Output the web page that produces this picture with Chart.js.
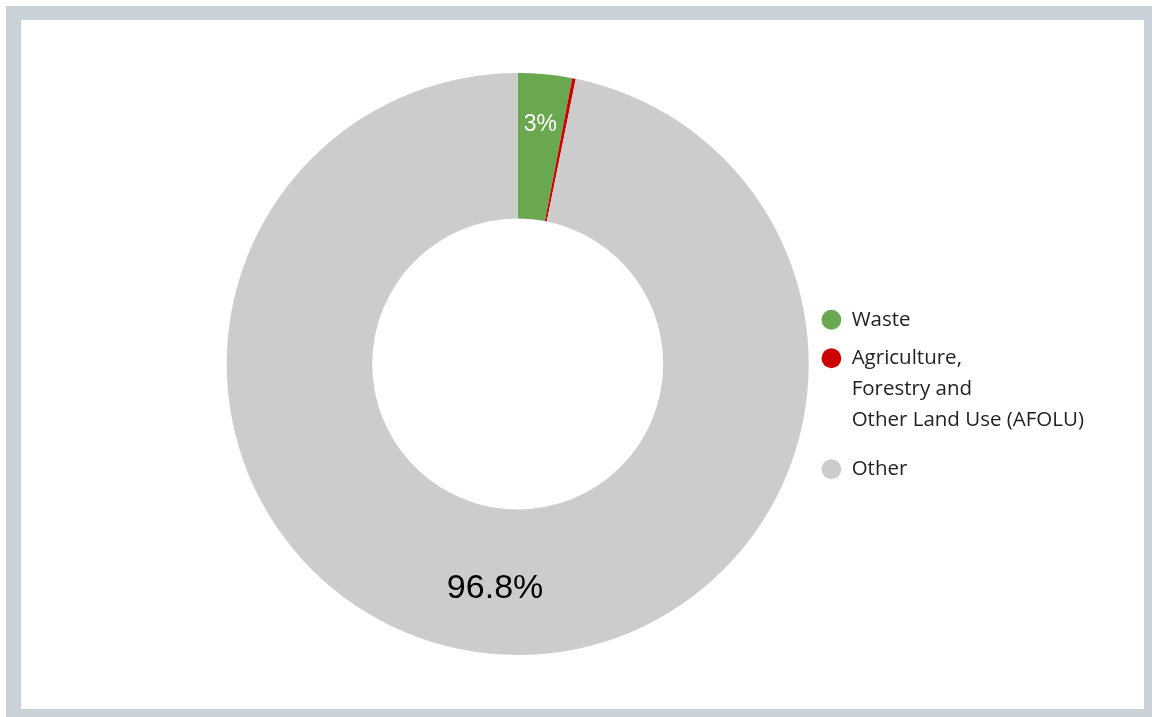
<!DOCTYPE html>
<html>
<head>
<meta charset="utf-8">
<script src="https://cdn.jsdelivr.net/npm/chart.js@4.4.1/dist/chart.umd.min.js"></script>
<style>
    html, body { margin: 0; padding: 0; background: #fff; }
    #frame { position: absolute; left: 6px; top: 6px; width: 1146px; height: 711px; background: #c9d1d9; }
    #inner { position: absolute; left: 15px; top: 14px; width: 1123px; height: 689px; background: #fff; }
    canvas { display: block; }
</style>
</head>
<body>
<div id="frame"><div id="inner"><canvas id="chart" width="1123" height="689"></canvas></div></div>
<script>
// Datos del grafico
const categories = ['Waste', ['Agriculture,', 'Forestry and', 'Other Land Use (AFOLU)'], 'Other'];
const shares = [3.0, 0.2, 96.8];
const shareLabels = ['3%', '', '96.8%'];
const sliceColors = ['#6aa84f', '#cc0000', '#cccccc'];

// Etiquetas dentro de los sectores
const sliceLabels = {
    id: 'sliceLabels',
    afterDatasetsDraw(chart) {
        const ctx = chart.ctx;
        const meta = chart.getDatasetMeta(0);
        const styles = [
            { size: 23, color: '#ffffff', pos: 0.65 },
            null,
            { size: 34, color: '#000000', pos: 0.55 }
        ];
        meta.data.forEach((arc, i) => {
            const text = shareLabels[i];
            const st = styles[i];
            if (!text || !st) return;
            const p = arc.getProps(['x', 'y', 'startAngle', 'endAngle', 'innerRadius', 'outerRadius'], true);
            const mid = (p.startAngle + p.endAngle) / 2;
            const r = p.innerRadius + (p.outerRadius - p.innerRadius) * st.pos;
            ctx.save();
            ctx.font = st.size + 'px "Liberation Sans", Arial, sans-serif';
            ctx.fillStyle = st.color;
            ctx.textAlign = 'center';
            ctx.textBaseline = 'middle';
            ctx.fillText(text, p.x + Math.cos(mid) * r, p.y + Math.sin(mid) * r);
            ctx.restore();
        });
    }
};

new Chart(document.getElementById('chart'), {
    type: 'doughnut',
    data: {
        labels: categories,
        datasets: [{
            data: shares,
            backgroundColor: sliceColors,
            borderWidth: 0
        }]
    },
    options: {
        responsive: false,
        animation: false,
        cutout: '50%',
        radius: 291,
        layout: { padding: { left: 211, right: 50, top: 53, bottom: 54 } },
        plugins: {
            tooltip: { enabled: false },
            legend: {
                position: 'right',
                // titulo vacio solo para bajar la leyenda
                title: { display: true, text: '', font: { size: 1, lineHeight: 1 }, padding: { top: 0, bottom: 60 } },
                labels: {
                    usePointStyle: true,
                    pointStyle: 'circle',
                    boxWidth: 20,
                    boxHeight: 14,
                    padding: 18,
                    color: '#222222',
                    font: { family: 'Open Sans', size: 20.5, lineHeight: '31px' }
                }
            }
        }
    },
    plugins: [sliceLabels]
});
</script>
</body>
</html>
